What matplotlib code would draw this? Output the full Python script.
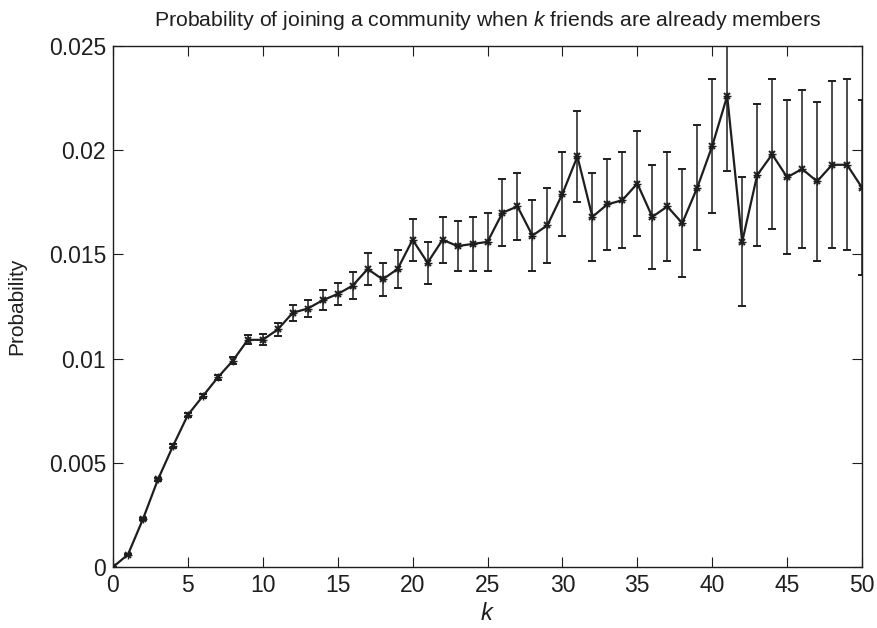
import numpy as np
import matplotlib.pyplot as plt

plt.rcParams['font.family'] = ['Liberation Sans', 'DejaVu Sans']
plt.rcParams['mathtext.fontset'] = 'custom'
plt.rcParams['mathtext.it'] = 'Liberation Sans:italic'

k = np.arange(0, 51)
prob = [0.0, 0.0006, 0.0023, 0.0042, 0.0058, 0.0073, 0.0082, 0.0091, 0.0099, 0.0109,
        0.0109, 0.0114, 0.0122, 0.0124, 0.0128, 0.0131, 0.0135, 0.0143, 0.0138, 0.0143,
        0.0157, 0.0146, 0.0157, 0.0154, 0.0155, 0.0156, 0.0170, 0.0173, 0.0159, 0.0164,
        0.0179, 0.0197, 0.0168, 0.0174, 0.0176, 0.0184, 0.0168, 0.0173, 0.0165, 0.0182,
        0.0202, 0.0226, 0.0156, 0.0188, 0.0198, 0.0187, 0.0191, 0.0185, 0.0193, 0.0193,
        0.0182]
err = [0.0, 0.00003, 0.00005, 0.00006, 0.00008, 0.0001, 0.0001, 0.00013, 0.00016, 0.00022,
       0.00026, 0.0003, 0.00038, 0.00042, 0.00048, 0.00055, 0.00065, 0.00075, 0.0008, 0.0009,
       0.001, 0.001, 0.0011, 0.0012, 0.0013, 0.0014, 0.0016, 0.0016, 0.0017, 0.0018,
       0.002, 0.0022, 0.0021, 0.0022, 0.0023, 0.0025, 0.0025, 0.0026, 0.0026, 0.003,
       0.0032, 0.0036, 0.0031, 0.0034, 0.0036, 0.0037, 0.0038, 0.0038, 0.004, 0.0041,
       0.0042]

fig = plt.figure(figsize=(8.78, 6.28), dpi=100)
ax = fig.add_axes([0.1287, 0.0971, 0.8531, 0.8297])

ax.errorbar(k, prob, yerr=err, color='#1e1e1e', ecolor='#1e1e1e', lw=1.6, elinewidth=1.1,
            capsize=3, capthick=1.1, marker='x', ms=5, mew=1.4)
ax.plot(k, prob, ls='none', marker='+', ms=6, mew=1.0, color='#1e1e1e')

ax.set_xlim(0, 50)
ax.set_ylim(0, 0.025)
ax.set_xticks(np.arange(0, 51, 5))
ax.set_yticks([0, 0.005, 0.01, 0.015, 0.02, 0.025])
ax.set_yticklabels(['0', '0.005', '0.01', '0.015', '0.02', '0.025'])
ax.tick_params(direction='in', top=True, right=True, length=7, labelsize=16.5,
               color='#1e1e1e', labelcolor='#1e1e1e')
ax.tick_params(axis='y', pad=5)
ax.tick_params(axis='x', pad=5)
for s in ax.spines.values():
    s.set_linewidth(1.0)
    s.set_color('#1e1e1e')

ax.set_xlabel('$k$', fontsize=17, labelpad=4, color='#1e1e1e')
ax.set_ylabel('Probability', fontsize=15, labelpad=16, color='#1e1e1e')
fig.text(0.556, 0.9586, 'Probability of joining a community when $k$ friends are already members',
         ha='center', va='baseline', fontsize=15.3, color='#1e1e1e')

fig.savefig('out.png', dpi=100)
